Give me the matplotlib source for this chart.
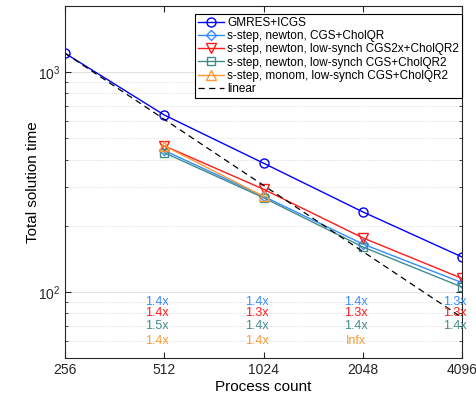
import numpy as np
import matplotlib
matplotlib.use("Agg")
import matplotlib.pyplot as plt
from matplotlib.ticker import FixedLocator, NullFormatter, LogLocator

plt.rcParams['font.family'] = ['Liberation Sans', 'DejaVu Sans']

# Data
procs = [256, 512, 1024, 2048, 4096]
gmres = [1220, 638, 385, 231, 144]
cgs_cholqr = [np.nan, 440, 272, 165, 110]
cgs2x = [np.nan, 462, 293, 176, 115]
lowsync_cgs = [np.nan, 430, 268, 160, 105]
monom = [np.nan, 462, 272, np.nan, np.nan]
linear = [1220, 610, 305, 152.5, 76.25]

speedup_procs = [512, 1024, 2048, 4096]
speedup_rows = [
    (["1.4x", "1.4x", "1.4x", "1.3x"], 90),
    (["1.4x", "1.3x", "1.3x", "1.3x"], 80),
    (["1.5x", "1.4x", "1.4x", "1.4x"], 70),
    (["1.4x", "1.4x", "Infx", ""], 60),
]

c_blue = (0, 0, 1)
c_lblue = (0.2, 0.55, 1.0)
c_red = (1.0, 0.1, 0.1)
c_teal = (0.25, 0.55, 0.55)
c_orange = (1.0, 0.6, 0.2)
row_colors = [c_lblue, c_red, c_teal, c_orange]

fig = plt.figure(figsize=(4.77, 3.96), dpi=100)
ax = fig.add_axes([0.136, 0.096, 0.833, 0.889])

ms = 6.5
ax.plot(procs, gmres, '-o', color=c_blue, mfc='none', ms=ms, lw=1,
        label="GMRES+ICGS")
ax.plot(procs, cgs_cholqr, '-D', color=c_lblue, mfc='none', ms=5, lw=1,
        label="s-step, newton, CGS+CholQR")
ax.plot(procs, cgs2x, '-v', color=c_red, mfc='none', ms=ms, lw=1,
        label="s-step, newton, low-synch CGS2x+CholQR2")
ax.plot(procs, lowsync_cgs, '-s', color=c_teal, mfc='none', ms=5.5, lw=1,
        label="s-step, newton, low-synch CGS+CholQR2")
ax.plot(procs, monom, '-^', color=c_orange, mfc='none', ms=ms, lw=1,
        label="s-step, monom, low-synch CGS+CholQR2")
ax.plot(procs, linear, '--', color='k', lw=0.9, label="linear",
        dashes=(5, 3.5))

for (labels, yv), col in zip(speedup_rows, row_colors):
    for p, lab in zip(speedup_procs, labels):
        ax.text(p * 0.952, yv, lab, color=col, fontsize=9,
                ha='center', va='center')

ax.set_xscale('log', base=2)
ax.set_yscale('log')
ax.set_xlim(256, 4096)
ax.set_ylim(50, 2000)
ax.xaxis.set_major_locator(FixedLocator(procs))
ax.set_xticklabels([str(p) for p in procs])
ax.xaxis.set_minor_locator(FixedLocator([]))
ax.yaxis.set_major_locator(FixedLocator([100, 1000]))
ax.yaxis.set_minor_locator(LogLocator(base=10, subs=np.arange(2, 10)))
ax.yaxis.set_minor_formatter(NullFormatter())

ax.tick_params(which='both', direction='in', top=True, right=True,
               colors=(0.15, 0.15, 0.15), labelsize=10)
ax.tick_params(which='major', length=4)
ax.tick_params(which='minor', length=2.5)
for s in ax.spines.values():
    s.set_color((0.15, 0.15, 0.15))
    s.set_linewidth(0.8)

ax.grid(True, axis='y', which='major', color=(0.85, 0.85, 0.85), lw=0.6)
ax.grid(True, axis='y', which='minor', color=(0.82, 0.82, 0.82), lw=0.6,
        ls=':')
ax.set_axisbelow(True)

ax.set_xlabel("Process count", fontsize=11, labelpad=2)
ax.set_ylabel("Total solution time", fontsize=11, labelpad=-2)

leg = ax.legend(loc='upper right', bbox_to_anchor=(1.0, 0.977),
                fontsize=8.5, fancybox=False,
                edgecolor='k', framealpha=1, borderaxespad=0,
                handlelength=2.2, handletextpad=0.3, labelspacing=0.1,
                borderpad=0.25)
leg.get_frame().set_linewidth(0.8)

fig.savefig("out.png", dpi=100)
